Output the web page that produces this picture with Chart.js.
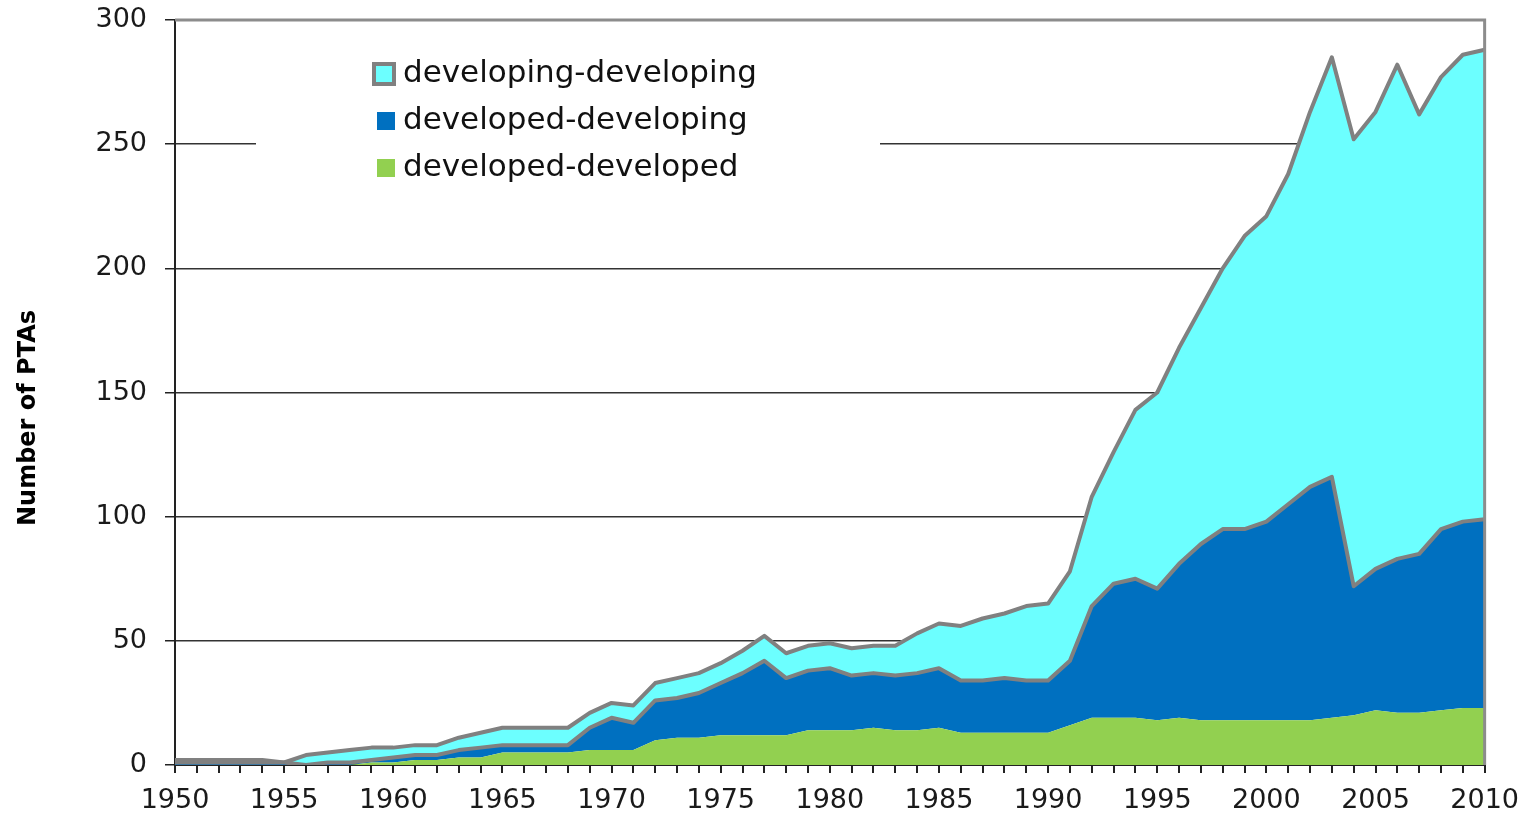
<!DOCTYPE html>
<html>
<head>
<meta charset="utf-8">
<title>PTAs by type</title>
<script src="https://cdn.jsdelivr.net/npm/chart.js@4.4.1/dist/chart.umd.min.js"></script>
<style>
  html, body { margin: 0; padding: 0; background: #fff; }
  #wrap { width: 1531px; height: 821px; position: relative; }
</style>
</head>
<body>
<div id="wrap"><canvas id="ptaChart"></canvas></div>
<script>
const years = [
    1950, 1951, 1952, 1953, 1954, 1955, 1956, 1957, 1958, 1959,
    1960, 1961, 1962, 1963, 1964, 1965, 1966, 1967, 1968, 1969,
    1970, 1971, 1972, 1973, 1974, 1975, 1976, 1977, 1978, 1979,
    1980, 1981, 1982, 1983, 1984, 1985, 1986, 1987, 1988, 1989,
    1990, 1991, 1992, 1993, 1994, 1995, 1996, 1997, 1998, 1999,
    2000, 2001, 2002, 2003, 2004, 2005, 2006, 2007, 2008, 2009,
    2010
];

// one value per year, layers are stacked bottom to top
const developedDeveloped = [
    0, 0, 0, 0, 0, 0, 0, 0, 0, 1,
    1, 2, 2, 3, 3, 5, 5, 5, 5, 6,
    6, 6, 10, 11, 11, 12, 12, 12, 12, 14,
    14, 14, 15, 14, 14, 15, 13, 13, 13, 13,
    13, 16, 19, 19, 19, 18, 19, 18, 18, 18,
    18, 18, 18, 19, 20, 22, 21, 21, 22, 23,
    23
];
const developedDeveloping = [
    1, 1, 1, 1, 1, 1, 0, 1, 1, 1,
    2, 2, 2, 3, 4, 3, 3, 3, 3, 9,
    13, 11, 16, 16, 18, 21, 25, 30, 23, 24,
    25, 22, 22, 22, 23, 24, 21, 21, 22, 21,
    21, 26, 45, 54, 56, 53, 62, 71, 77, 77,
    80, 87, 94, 97, 52, 57, 62, 64, 73, 75,
    76
];
const developingDeveloping = [
    1, 1, 1, 1, 1, 0, 4, 4, 5, 5,
    4, 4, 4, 5, 6, 7, 7, 7, 7, 6,
    6, 7, 7, 8, 8, 8, 9, 10, 10, 10,
    10, 11, 11, 12, 16, 18, 22, 25, 26, 30,
    31, 36, 44, 53, 68, 79, 87, 95, 105, 118,
    123, 133, 151, 169, 180, 184, 199, 177, 182, 188,
    189
];

const yTicks = [0, 50, 100, 150, 200, 250, 300];

const GREY_LINE = '#808080';
const FONT = '"DejaVu Sans", Verdana, sans-serif';

// legend sits inside the plot, top left, on a white patch that hides the grid
const legendDecor = {
    id: 'legendDecor',
    beforeDatasetsDraw(chart) {
        const ctx = chart.ctx;
        ctx.save();
        ctx.fillStyle = '#fff';
        ctx.fillRect(256, 42, 624, 150);
        ctx.restore();
    },
    afterDatasetsDraw(chart) {
        const ctx = chart.ctx;
        const area = chart.chartArea;
        ctx.save();

        // plot frame: top and right edges in grey
        ctx.strokeStyle = '#8c8c8c';
        ctx.lineWidth = 3;
        ctx.beginPath();
        ctx.moveTo(area.left, area.top);
        ctx.lineTo(area.right, area.top);
        ctx.lineTo(area.right, area.bottom);
        ctx.stroke();

        // legend entries, topmost layer first
        const items = chart.data.datasets.slice().reverse();
        ctx.font = '31px ' + FONT;
        ctx.textBaseline = 'middle';
        ctx.textAlign = 'left';
        items.forEach((ds, i) => {
            const cy = 74 + i * 47;
            if (i === 0) {
                ctx.fillStyle = ds.backgroundColor;
                ctx.fillRect(374, cy - 10, 20, 20);
                ctx.strokeStyle = GREY_LINE;
                ctx.lineWidth = 4;
                ctx.strokeRect(374, cy - 10, 20, 20);
            } else {
                ctx.fillStyle = ds.backgroundColor;
                ctx.fillRect(377, cy - 9, 18, 18);
            }
            ctx.fillStyle = '#111';
            ctx.fillText(ds.label, 403, cy);
        });

        // y axis title
        ctx.translate(29, 418);
        ctx.rotate(-Math.PI / 2);
        ctx.textAlign = 'center';
        ctx.font = 'bold 24px ' + FONT;
        ctx.fillStyle = '#000';
        ctx.fillText('Number of PTAs', 0, 0);
        ctx.restore();
    }
};

function renderChart() {
    const ctx = document.getElementById('ptaChart').getContext('2d');

    new Chart(ctx, {
        type: 'line',
        data: {
            labels: years,
            datasets: [
                {
                    label: 'developed-developed',
                    data: developedDeveloped,
                    backgroundColor: '#92D050',
                    borderColor: '#92D050',
                    borderWidth: 0,
                    fill: 'origin'
                },
                {
                    label: 'developed-developing',
                    data: developedDeveloping,
                    backgroundColor: '#0070C0',
                    borderColor: GREY_LINE,
                    borderWidth: 4,
                    fill: '-1'
                },
                {
                    label: 'developing-developing',
                    data: developingDeveloping,
                    backgroundColor: '#6CFFFF',
                    borderColor: GREY_LINE,
                    borderWidth: 4,
                    fill: '-1'
                }
            ]
        },
        options: {
            responsive: true,
            maintainAspectRatio: false,
            animation: false,
            layout: { padding: { top: 20, right: 41, left: 0, bottom: 0 } },
            elements: {
                point: { radius: 0 },
                line: { tension: 0, borderJoinStyle: 'round' }
            },
            scales: {
                x: {
                    offset: false,
                    afterFit: (scale) => { scale.height = 56; },
                    grid: {
                        drawOnChartArea: false,
                        tickLength: 8,
                        tickColor: '#222',
                        lineWidth: 2
                    },
                    border: { color: '#222', width: 2 },
                    ticks: {
                        autoSkip: false,
                        maxRotation: 0,
                        padding: 12,
                        color: '#1a1a1a',
                        font: { family: FONT, size: 27 },
                        callback: function (value) {
                            const year = this.getLabelForValue(value);
                            return year % 5 === 0 ? String(year) : '';
                        }
                    }
                },
                y: {
                    stacked: true,
                    min: 0,
                    max: 300,
                    afterFit: (scale) => {
                        scale.width = 175;
                        // let layout padding alone decide the plot's top edge
                        scale.paddingTop = 0;
                        scale.paddingBottom = 0;
                    },
                    afterBuildTicks: (scale) => {
                        scale.ticks = yTicks.map(v => ({ value: v }));
                    },
                    grid: {
                        color: (c) => {
                            if (c.tick.value === 0) return 'rgba(0,0,0,0)';
                            if (c.tick.value === 300) return '#8c8c8c';
                            return '#333';
                        },
                        lineWidth: 1.5,
                        tickLength: 10,
                        tickColor: '#222'
                    },
                    border: { color: '#222', width: 2 },
                    ticks: {
                        padding: 18,
                        color: '#1a1a1a',
                        font: { family: FONT, size: 27 }
                    }
                }
            },
            plugins: {
                legend: { display: false },
                tooltip: { enabled: false }
            }
        },
        plugins: [legendDecor]
    });
}

document.addEventListener('DOMContentLoaded', renderChart);
</script>
</body>
</html>
